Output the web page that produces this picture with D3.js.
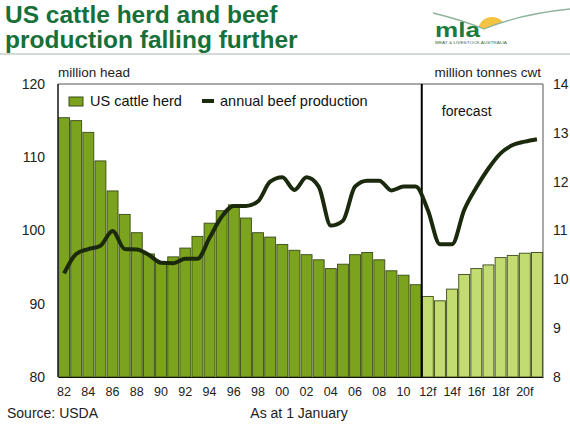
<!DOCTYPE html>
<html>
<head>
<meta charset="utf-8">
<script src="https://cdn.jsdelivr.net/npm/d3@7"></script>
<style>
  body { margin: 0; background: #fff; }
  svg { display: block; font-family: "Liberation Sans", Arial, sans-serif; }
</style>
</head>
<body>
<svg id="chart"></svg>
<script>
// Chart data
var years = ["82","83","84","85","86","87","88","89","90","91","92","93","94","95","96","97","98","99","00","01",
             "02","03","04","05","06","07","08","09","10","11","12f","13f","14f","15f","16f","17f","18f","19f","20f","21f"];
// US cattle herd at 1 January, million head (left axis)
var herd = [115.4,115.0,113.4,109.5,105.4,102.2,99.7,96.8,95.7,96.4,97.6,99.2,101.0,102.7,103.5,101.7,99.7,99.1,98.1,97.3,
            96.7,96.0,94.8,95.4,96.7,97.0,96.0,94.5,93.9,92.6,91.0,90.4,92.0,94.0,94.8,95.3,96.3,96.6,96.9,97.0];
// annual beef production, million tonnes cwt (right axis)
var beef = [10.12,10.52,10.62,10.69,10.99,10.62,10.61,10.5,10.34,10.33,10.42,10.42,10.85,11.28,11.5,11.5,11.6,12.0,12.09,11.83,
            12.09,11.9,11.1,11.2,11.9,12.02,12.02,11.82,11.9,11.9,11.42,10.72,10.72,11.42,11.88,12.27,12.58,12.75,12.82,12.87];
var firstForecast = 30;
var leftTicks = [80, 90, 100, 110, 120];
var rightTicks = [8, 9, 10, 11, 12, 13, 14];

var svgWidth = 570;
var svgHeight = 428;
var margin = { top: 84, right: 27, bottom: 51, left: 58 };
var chartWidth = svgWidth - margin.left - margin.right;
var chartHeight = svgHeight - margin.top - margin.bottom;

var svg = d3.select("#chart")
  .attr("width", svgWidth)
  .attr("height", svgHeight);

// Title
var title = svg.append("text")
  .attr("x", 5)
  .attr("fill", "#17703a")
  .style("font-weight", "bold")
  .style("font-size", "24.5px");
title.append("tspan").attr("x", 5).attr("y", 23).text("US cattle herd and beef");
title.append("tspan").attr("x", 5).attr("y", 48).text("production falling further");

svg.append("line")
  .attr("x1", 0).attr("x2", svgWidth)
  .attr("y1", 54).attr("y2", 54)
  .attr("stroke", "#a9b8ab")
  .attr("stroke-width", 1.2);

// mla logo
var logo = svg.append("g");
var swoosh = "M433,13 Q462,20 484,29 Q520,14 570,9";
logo.append("clipPath").attr("id", "sunclip")
  .append("path").attr("d", swoosh + " L570,0 L433,0 Z");
logo.append("circle")
  .attr("cx", 492).attr("cy", 31).attr("r", 14)
  .attr("fill", "#f5c342")
  .attr("clip-path", "url(#sunclip)");
logo.append("path")
  .attr("d", swoosh)
  .attr("fill", "none")
  .attr("stroke", "#8fb39a")
  .attr("stroke-width", 1.3);
logo.append("text")
  .attr("x", 435).attr("y", 37)
  .attr("textLength", 45)
  .attr("lengthAdjust", "spacingAndGlyphs")
  .attr("fill", "#1d7a3c")
  .style("font-weight", "bold")
  .style("font-size", "21px")
  .text("mla");
logo.append("text")
  .attr("x", 435).attr("y", 44)
  .attr("textLength", 72)
  .attr("lengthAdjust", "spacingAndGlyphs")
  .attr("fill", "#3c6b4a")
  .style("font-size", "3.5px")
  .text("MEAT & LIVESTOCK AUSTRALIA");

var chart = svg.append("g")
  .attr("transform", "translate(" + margin.left + "," + margin.top + ")");

// Scales
var xScale = d3.scaleBand()
  .domain(years)
  .range([0, chartWidth])
  .paddingInner(0.1)
  .paddingOuter(0.05);

var yLeft = d3.scaleLinear()
  .domain([80, 120])
  .range([chartHeight, 0]);

var yRight = d3.scaleLinear()
  .domain([8, 14])
  .range([chartHeight, 0]);

// Bars
chart.selectAll(".bar")
  .data(herd)
  .enter()
  .append("rect")
  .attr("class", "bar")
  .attr("x", function (d, i) { return xScale(years[i]); })
  .attr("y", function (d) { return yLeft(d); })
  .attr("width", xScale.bandwidth())
  .attr("height", function (d) { return chartHeight - yLeft(d); })
  .attr("fill", function (d, i) { return i >= firstForecast ? "#c2dc72" : "#7ba31d"; })
  .attr("stroke", "#3a4a18")
  .attr("stroke-width", 0.9);

// Plot frame
chart.append("path")
  .attr("d", "M0," + chartHeight + " V0 H" + chartWidth + " V" + chartHeight)
  .attr("fill", "none")
  .attr("stroke", "#555")
  .attr("stroke-width", 1);
chart.append("line")
  .attr("x1", 0).attr("x2", 0).attr("y1", 0).attr("y2", chartHeight)
  .attr("stroke", "#111").attr("stroke-width", 1.2);

// Forecast divider
var divX = (xScale(years[firstForecast - 1]) + xScale.bandwidth() + xScale(years[firstForecast])) / 2;
chart.append("line")
  .attr("x1", divX).attr("x2", divX)
  .attr("y1", 0).attr("y2", chartHeight)
  .attr("stroke", "#000")
  .attr("stroke-width", 2);

chart.append("text")
  .attr("x", divX + 20).attr("y", 32)
  .attr("fill", "#111")
  .style("font-size", "14px")
  .text("forecast");

// Beef production line
var line = d3.line()
  .x(function (d, i) { return xScale(years[i]) + xScale.bandwidth() / 2; })
  .y(function (d) { return yRight(d); })
  .curve(d3.curveMonotoneX);

chart.append("path")
  .datum(beef)
  .attr("fill", "none")
  .attr("stroke", "#1b2a0d")
  .attr("stroke-width", 4)
  .attr("stroke-linejoin", "round")
  .attr("d", line);

// Axes
var xAxis = chart.append("g")
  .attr("transform", "translate(0," + chartHeight + ")")
  .call(d3.axisBottom(xScale).tickSize(0).tickPadding(10)
    .tickValues(years.filter(function (d, i) { return i % 2 === 0; })));
xAxis.select(".domain").attr("stroke", "#111").attr("stroke-width", 1.2);
xAxis.selectAll("text")
  .style("font-size", "12.5px")
  .style("font-family", "Liberation Sans, Arial, sans-serif")
  .attr("fill", "#222");

var leftAxis = chart.append("g")
  .call(d3.axisLeft(yLeft).tickValues(leftTicks).tickSize(0).tickPadding(13));
leftAxis.select(".domain").remove();
leftAxis.selectAll("text")
  .style("font-size", "14px")
  .style("font-family", "Liberation Sans, Arial, sans-serif")
  .attr("fill", "#222");

var rightAxis = chart.append("g")
  .attr("transform", "translate(" + chartWidth + ",0)")
  .call(d3.axisRight(yRight).tickValues(rightTicks).tickFormat(d3.format("d")).tickSize(0).tickPadding(10));
rightAxis.select(".domain").remove();
rightAxis.selectAll("text")
  .style("font-size", "14px")
  .style("font-family", "Liberation Sans, Arial, sans-serif")
  .attr("fill", "#222");

// Axis titles
svg.append("text")
  .attr("x", 58).attr("y", 77)
  .attr("fill", "#222")
  .style("font-size", "13.5px")
  .text("million head");
svg.append("text")
  .attr("x", 541).attr("y", 77)
  .attr("text-anchor", "end")
  .attr("fill", "#222")
  .style("font-size", "13.5px")
  .text("million tonnes cwt");

// Legend
var legend = svg.append("g");
legend.append("rect")
  .attr("x", 69).attr("y", 97)
  .attr("width", 14).attr("height", 9)
  .attr("fill", "#7ba31d")
  .attr("stroke", "#3a4a18");
legend.append("text")
  .attr("x", 90).attr("y", 106)
  .attr("fill", "#111")
  .style("font-size", "14.5px")
  .text("US cattle herd");
legend.append("line")
  .attr("x1", 202).attr("x2", 214)
  .attr("y1", 101).attr("y2", 101)
  .attr("stroke", "#1b2a0d")
  .attr("stroke-width", 4);
legend.append("text")
  .attr("x", 220).attr("y", 106)
  .attr("fill", "#111")
  .style("font-size", "14.5px")
  .text("annual beef production");

// Footer
svg.append("text")
  .attr("x", 7).attr("y", 418)
  .attr("fill", "#222")
  .style("font-size", "14px")
  .text("Source: USDA");
svg.append("text")
  .attr("x", 299).attr("y", 418)
  .attr("text-anchor", "middle")
  .attr("fill", "#222")
  .style("font-size", "14px")
  .text("As at 1 January");
</script>
</body>
</html>
